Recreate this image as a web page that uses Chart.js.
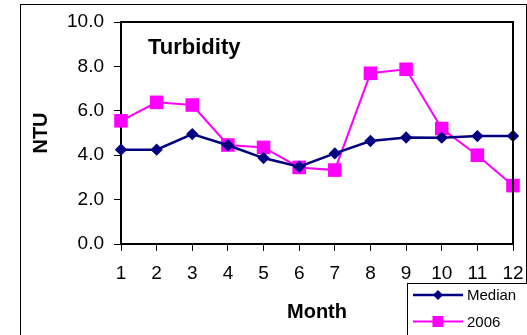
<!DOCTYPE html>
<html>
<head>
<meta charset="utf-8">
<script src="https://cdn.jsdelivr.net/npm/chart.js@4.4.1/dist/chart.umd.min.js"></script>
<style>
  html, body { margin: 0; padding: 0; background: #fff; }
  #wrap { width: 527px; height: 335px; position: relative; }
</style>
</head>
<body>
<div id="wrap"><canvas id="turb"></canvas></div>
<script>
// Monthly turbidity values
const months = ['1', '2', '3', '4', '5', '6', '7', '8', '9', '10', '11', '12'];
const median = [4.25, 4.25, 4.95, 4.45, 3.87, 3.48, 4.08, 4.64, 4.8, 4.79, 4.86, 4.87];
const year2006 = [5.55, 6.38, 6.26, 4.46, 4.35, 3.45, 3.33, 7.69, 7.87, 5.2, 4.0, 2.63];
const yTicks = [0, 2, 4, 6, 8, 10];

const FONT = 'Arial, "Liberation Sans", sans-serif';

// Outer frame, plot box, inner title and the legend box in the corner
const framePlugin = {
  id: 'frame',
  beforeDraw(chart) {
    const ctx = chart.ctx;
    ctx.save();
    ctx.fillStyle = '#000';
    ctx.fillRect(20, 4, 507, 1);   // top
    ctx.fillRect(20, 4, 1, 331);   // left
    ctx.fillRect(526, 4, 1, 331);  // right
    ctx.font = 'bold 22px ' + FONT;
    ctx.textBaseline = 'alphabetic';
    ctx.fillText('Turbidity', 148, 53.5);
    ctx.restore();
  },
  afterDraw(chart) {
    const { ctx, chartArea: a } = chart;
    ctx.save();
    // top and right edges of the plot box
    ctx.fillStyle = '#000000';
    ctx.fillRect(Math.round(a.left) - 1, Math.round(a.top) - 1, Math.round(a.right - a.left) + 2, 2);
    ctx.fillRect(Math.round(a.right) - 1, Math.round(a.top) - 1, 2, Math.round(a.bottom - a.top) + 2);

    const bx = 407, by = 283;
    const marks = [5, 7.8];
    ctx.fillStyle = '#fff';
    ctx.fillRect(bx, by, 200, 100);
    ctx.fillStyle = '#000';
    ctx.fillRect(bx, by, 200, 1);
    ctx.fillRect(bx, by, 1, 100);
    chart.data.datasets.forEach((ds, i) => {
      const y = by + 12 + i * 26.5;
      ctx.fillStyle = ds.borderColor;
      ctx.fillRect(bx + 6, y - ds.borderWidth / 2, 50, ds.borderWidth);
      ctx.fillStyle = ds.backgroundColor;
      Chart.helpers.drawPoint(ctx, {
        pointStyle: ds.pointStyle, radius: marks[i], borderWidth: 0
      }, bx + 31, y);
      ctx.fillStyle = '#000';
      ctx.font = '15px ' + FONT;
      ctx.textBaseline = 'middle';
      ctx.fillText(ds.label, bx + 60, y + 1);
    });
    ctx.restore();
  }
};

new Chart(document.getElementById('turb'), {
  type: 'line',
  data: {
    labels: months,
    datasets: [{
      label: 'Median',
      data: median,
      borderColor: '#000080',
      backgroundColor: '#000080',
      borderWidth: 2.5,
      pointStyle: 'rectRot',
      pointRadius: 6.2,
      pointBorderWidth: 0,
      tension: 0,
      clip: false
    }, {
      label: '2006',
      data: year2006,
      borderColor: '#ff00ff',
      backgroundColor: '#ff00ff',
      borderWidth: 2,
      pointStyle: 'rect',
      pointRadius: 9.6,
      pointBorderWidth: 0,
      tension: 0,
      clip: false
    }]
  },
  options: {
    responsive: true,
    maintainAspectRatio: false,
    animation: false,
    layout: { padding: { top: 22, right: 14, left: 0, bottom: 0 } },
    scales: {
      x: {
        offset: false,
        grid: { display: true, drawOnChartArea: false, drawTicks: true, tickLength: 7, color: '#000' },
        border: { color: '#000', width: 2 },
        ticks: { color: '#000', padding: 11, maxRotation: 0, autoSkip: false, font: { family: FONT, size: 19 } },
        title: { display: true, text: 'Month', color: '#000', padding: { top: 0, bottom: 11 }, font: { family: FONT, size: 20, weight: 'bold' } },
        afterFit(s) { s.height = 91; s.paddingLeft = 0; s.paddingRight = 0; }
      },
      y: {
        min: 0,
        max: 10,
        afterBuildTicks(s) { s.ticks = yTicks.map(v => ({ value: v })); },
        grid: { display: true, drawOnChartArea: false, drawTicks: true, tickLength: 7, color: '#000' },
        border: { color: '#000', width: 2 },
        ticks: { color: '#000', padding: 10, font: { family: FONT, size: 19 }, callback: v => v.toFixed(1) },
        title: { display: true, text: 'NTU', color: '#000', padding: { top: 29, bottom: 0 }, font: { family: FONT, size: 20, weight: 'bold' } },
        afterFit(s) { s.width = 121; s.paddingTop = 0; s.paddingBottom = 0; }
      }
    },
    plugins: {
      legend: { display: false },
      tooltip: { enabled: false }
    }
  },
  plugins: [framePlugin]
});
</script>
</body>
</html>
